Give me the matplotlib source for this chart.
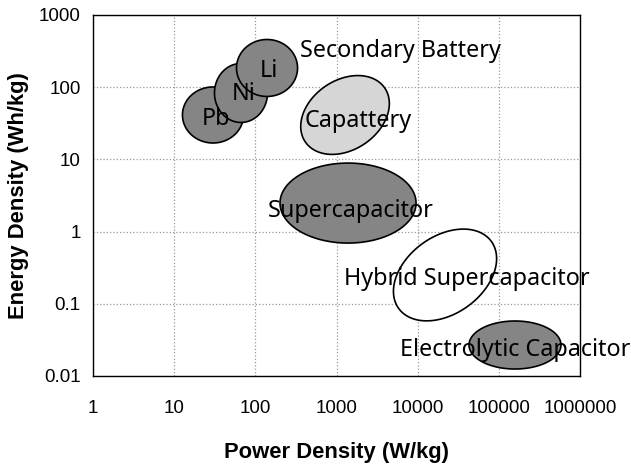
import numpy as np
import matplotlib
matplotlib.use("Agg")
import matplotlib.pyplot as plt

# ellipse regions on the Ragone plot, in log10 decades
names = ["Pb", "Ni", "Li", "Capattery", "Supercapacitor",
         "Hybrid Supercapacitor", "Electrolytic Capacitor"]
cx = [1.478, 1.823, 2.144, 3.105, 3.142, 4.337, 5.199]     # log10 power centre
cy = [1.615, 1.920, 2.266, 1.615, 0.395, -0.601, -1.571]   # log10 energy centre
widths = [0.752, 0.653, 0.752, 1.24, 1.676, 1.48, 1.133]    # decades
heights = [0.776, 0.817, 0.789, 0.92, 1.108, 1.02, 0.665]   # decades
angles = [0, 0, 0, 45, 0, 45, 0]
fills = ["#858585", "#858585", "#858585", "#d6d6d6", "#858585", "white", "#858585"]

# text labels (left, baseline) in data units
labels = ["Pb", "Ni", "Li", "Capattery", "Supercapacitor",
          "Hybrid Supercapacitor", "Electrolytic Capacitor", "Secondary Battery"]
label_x = [22, 51.6, 114, 409, 143, 1237, 6000, 355]
label_y = [29.9, 66.5, 138, 28.1, 1.59, 0.182, 0.0189, 262]

xticks = [1, 10, 100, 1000, 10000, 100000, 1000000]
yticks = [0.01, 0.1, 1, 10, 100, 1000]

fig = plt.figure(figsize=(6.31, 4.67), dpi=100)
ax = fig.add_axes([0.1474, 0.1949, 0.7718, 0.7730])
ax.set_xscale("log")
ax.set_yscale("log")
ax.set_xlim(1, 1e6)
ax.set_ylim(0.01, 1000)

t = np.linspace(0, 2 * np.pi, 200)
for i in range(len(names)):
    a, b = widths[i] / 2, heights[i] / 2
    th = np.radians(angles[i])
    u, v = a * np.cos(t), b * np.sin(t)
    lx = cx[i] + u * np.cos(th) - v * np.sin(th)
    ly = cy[i] + u * np.sin(th) + v * np.cos(th)
    ax.fill(10 ** lx, 10 ** ly, facecolor=fills[i], edgecolor="black",
            linewidth=1.2, zorder=2 + i)

for s, x, y in zip(labels, label_x, label_y):
    ax.text(x, y, s, family="Noto Sans", fontsize=16.8, ha="left",
            va="baseline", zorder=20, clip_on=False)

ax.set_xticks(xticks)
ax.set_xticklabels([str(v) for v in xticks])
ax.set_yticks(yticks)
ax.set_yticklabels(["0.01", "0.1", "1", "10", "100", "1000"])
ax.minorticks_off()
ax.tick_params(length=0, labelsize=13.5, pad=9)
ax.tick_params(axis="x", pad=17)
for lab in ax.get_xticklabels() + ax.get_yticklabels():
    lab.set_family("Liberation Sans")

ax.grid(True, which="major", color="#999999", linestyle=":", linewidth=0.9)
ax.set_axisbelow(True)
for sp in ax.spines.values():
    sp.set_linewidth(1.0)

ax.set_xlabel("Power Density (W/kg)", family="Liberation Sans",
              fontweight="bold", fontsize=15.8, labelpad=18)
ax.set_ylabel("Energy Density (Wh/kg)", family="Liberation Sans",
              fontweight="bold", fontsize=15.8, labelpad=7)

fig.savefig("out.png", dpi=100)
